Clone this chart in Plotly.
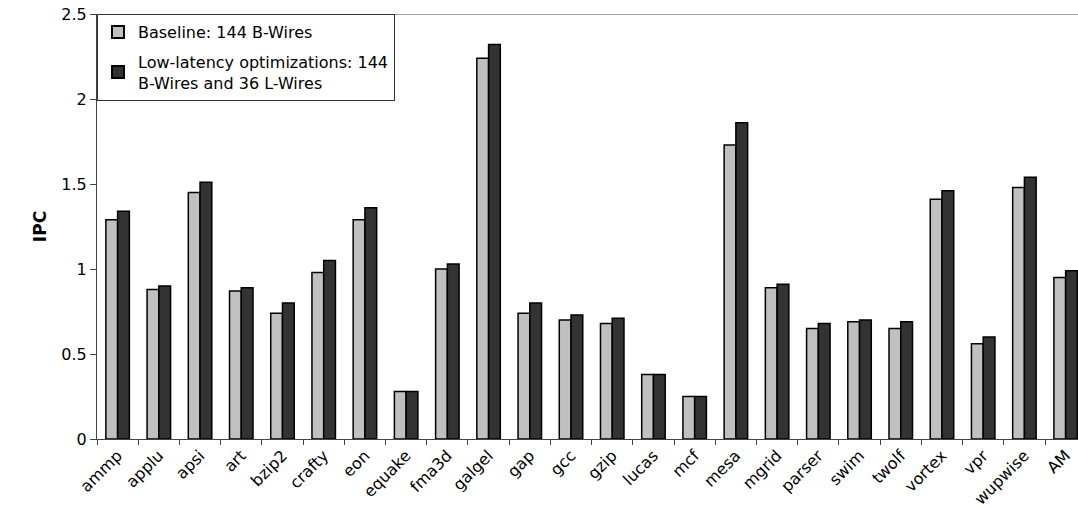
import plotly.graph_objects as go

categories = ["ammp", "applu", "apsi", "art", "bzip2", "crafty", "eon", "equake", "fma3d",
              "galgel", "gap", "gcc", "gzip", "lucas", "mcf", "mesa", "mgrid", "parser",
              "swim", "twolf", "vortex", "vpr", "wupwise", "AM"]
baseline = [1.29, 0.88, 1.45, 0.87, 0.74, 0.98, 1.29, 0.28, 1.00, 2.24, 0.74, 0.70,
            0.68, 0.38, 0.25, 1.73, 0.89, 0.65, 0.69, 0.65, 1.41, 0.56, 1.48, 0.95]
lowlat = [1.34, 0.90, 1.51, 0.89, 0.80, 1.05, 1.36, 0.28, 1.03, 2.32, 0.80, 0.73,
          0.71, 0.38, 0.25, 1.86, 0.91, 0.68, 0.70, 0.69, 1.46, 0.60, 1.54, 0.99]
y_ticks = [0, 0.5, 1, 1.5, 2, 2.5]
y_tick_text = ["0", "0.5", "1", "1.5", "2", "2.5"]
series_names = ["Baseline: 144 B-Wires",
                "Low-latency optimizations: 144<br>B-Wires and 36 L-Wires"]

font = "DejaVu Sans, Arial, sans-serif"

fig = go.Figure()
fig.add_trace(go.Bar(x=categories, y=baseline, name=series_names[0], legendgroup="a",
                     marker=dict(color="#c0c0c0", line=dict(color="#000000", width=1.5))))
fig.add_trace(go.Bar(x=categories, y=lowlat, name=series_names[1], legendgroup="b",
                     marker=dict(color="#333333", line=dict(color="#000000", width=1.5))))

fig.update_layout(
    width=1078, height=507,
    margin=dict(l=97, r=0, t=14, b=68, autoexpand=False),
    paper_bgcolor="white", plot_bgcolor="white",
    barmode="group", bargap=0.43, bargroupgap=0,
    font=dict(family=font, size=16, color="#000000"),
    showlegend=True,
    legend=dict(x=0, y=1, xanchor="left", yanchor="top",
                bordercolor="#333333", borderwidth=1, bgcolor="white",
                font=dict(family=font, size=16, color="#000000"),
                traceorder="grouped", tracegroupgap=6,
                itemsizing="constant", itemwidth=30),
    xaxis=dict(range=[-0.5, 23.3], showline=True, linecolor="#444444", linewidth=1,
               ticks="outside", tickson="boundaries", ticklen=5, tickcolor="#444444",
               tickangle=-45, showgrid=False, tickfont=dict(size=16), automargin=False),
    yaxis=dict(range=[0, 2.5], tickvals=y_ticks, ticktext=y_tick_text,
               showline=True, linecolor="#444444", linewidth=1,
               ticks="outside", ticklen=6, tickcolor="#444444", showgrid=False,
               zeroline=False, tickfont=dict(size=16), automargin=False,
               title=dict(text="<b>IPC</b>", font=dict(size=17), standoff=10)),
    shapes=[dict(type="line", xref="paper", yref="y", x0=0, x1=1, y0=y_ticks[-1], y1=y_ticks[-1],
                 line=dict(color="#444444", width=1))],
)

fig.write_html("out.html", config={"displayModeBar": False},
               post_script="document.body.style.margin='0px';document.body.style.overflow='hidden';")
